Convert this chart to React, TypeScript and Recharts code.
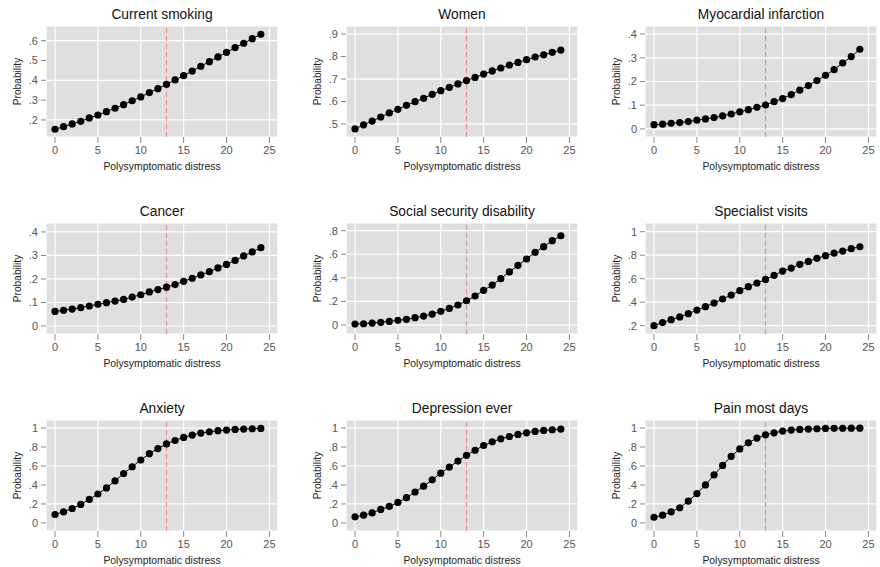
import React from 'react';
import { LineChart, Line, XAxis, YAxis, CartesianGrid, ReferenceLine } from 'recharts';

const distress = [0, 1, 2, 3, 4, 5, 6, 7, 8, 9, 10, 11, 12, 13, 14, 15, 16, 17, 18, 19, 20, 21, 22, 23, 24];
const xTicks = [0, 5, 10, 15, 20, 25];

const smoking = [0.153, 0.166, 0.18, 0.193, 0.21, 0.225, 0.242, 0.259, 0.277, 0.297, 0.316, 0.338, 0.358, 0.38, 0.402, 0.424, 0.447, 0.471, 0.494, 0.518, 0.541, 0.565, 0.587, 0.61, 0.632];
const women = [0.478, 0.496, 0.513, 0.531, 0.549, 0.565, 0.583, 0.599, 0.614, 0.632, 0.648, 0.663, 0.678, 0.693, 0.707, 0.722, 0.736, 0.749, 0.762, 0.774, 0.786, 0.798, 0.808, 0.819, 0.829];
const myocardial = [0.018, 0.02, 0.024, 0.027, 0.031, 0.037, 0.042, 0.048, 0.055, 0.063, 0.072, 0.081, 0.091, 0.101, 0.115, 0.128, 0.145, 0.164, 0.183, 0.204, 0.226, 0.25, 0.278, 0.305, 0.336];
const cancer = [0.062, 0.067, 0.072, 0.078, 0.085, 0.092, 0.099, 0.106, 0.113, 0.123, 0.133, 0.145, 0.155, 0.165, 0.176, 0.19, 0.203, 0.217, 0.231, 0.247, 0.262, 0.279, 0.298, 0.315, 0.333];
const disability = [0.008, 0.011, 0.017, 0.023, 0.031, 0.04, 0.048, 0.062, 0.076, 0.093, 0.116, 0.141, 0.17, 0.206, 0.246, 0.294, 0.339, 0.393, 0.45, 0.506, 0.56, 0.616, 0.664, 0.715, 0.757];
const specialist = [0.2, 0.226, 0.251, 0.274, 0.302, 0.333, 0.362, 0.393, 0.427, 0.461, 0.498, 0.532, 0.563, 0.594, 0.628, 0.665, 0.69, 0.722, 0.747, 0.773, 0.796, 0.818, 0.835, 0.855, 0.872];
const anxiety = [0.089, 0.117, 0.152, 0.195, 0.248, 0.305, 0.369, 0.443, 0.521, 0.592, 0.663, 0.73, 0.784, 0.833, 0.869, 0.901, 0.926, 0.947, 0.961, 0.972, 0.979, 0.986, 0.989, 0.993, 0.996];
const depression = [0.064, 0.082, 0.106, 0.142, 0.174, 0.216, 0.266, 0.326, 0.387, 0.454, 0.525, 0.589, 0.652, 0.713, 0.766, 0.816, 0.855, 0.887, 0.911, 0.933, 0.95, 0.965, 0.975, 0.982, 0.989];
const pain = [0.06, 0.082, 0.117, 0.16, 0.23, 0.309, 0.401, 0.507, 0.606, 0.702, 0.78, 0.844, 0.894, 0.929, 0.95, 0.968, 0.979, 0.986, 0.989, 0.993, 0.996, 0.997, 0.998, 0.999, 0.999];

const titles = ['Current smoking', 'Women', 'Myocardial infarction', 'Cancer', 'Social security disability', 'Specialist visits', 'Anxiety', 'Depression ever', 'Pain most days'];
const seriesList = [smoking, women, myocardial, cancer, disability, specialist, anxiety, depression, pain];
const yTicksList = [
  [0.2, 0.3, 0.4, 0.5, 0.6],
  [0.5, 0.6, 0.7, 0.8, 0.9],
  [0, 0.1, 0.2, 0.3, 0.4],
  [0, 0.1, 0.2, 0.3, 0.4],
  [0, 0.2, 0.4, 0.6, 0.8],
  [0.2, 0.4, 0.6, 0.8, 1],
  [0, 0.2, 0.4, 0.6, 0.8, 1],
  [0, 0.2, 0.4, 0.6, 0.8, 1],
  [0, 0.2, 0.4, 0.6, 0.8, 1],
];
const yDomains: [number, number][] = [
  [0.114, 0.674],
  [0.442, 0.936],
  [-0.034, 0.434],
  [-0.034, 0.438],
  [-0.076, 0.865],
  [0.129, 1.074],
  [-0.085, 1.085],
  [-0.085, 1.085],
  [-0.085, 1.085],
];

const FONT = '"Liberation Sans", Arial, Helvetica, sans-serif';
const colLefts = [0, 300, 599];
const rowTops = [0, 197, 394];

const fmt = (v: number) => {
  if (v === 0) return '0';
  if (v === 1) return '1';
  return String(Math.round(v * 10) / 10).replace(/^0/, '');
};

function Panel({ idx }: { idx: number }) {
  const col = idx % 3;
  const row = Math.floor(idx / 3);
  const left = colLefts[col];
  const top = rowTops[row];
  const width = col === 2 ? 281 : 300;
  const right = col === 2 ? 3 : 22;
  const series = seriesList[idx];
  const data = distress.map((x, i) => ({ x, y: series[i] }));
  const plotW = width - right - 46;
  return (
    <div style={{ position: 'absolute', left, top, width, height: 197 }}>
      <div
        style={{
          position: 'absolute',
          left: 46,
          width: plotW,
          top: 6,
          textAlign: 'center',
          fontFamily: FONT,
          fontSize: 13.8,
          lineHeight: '18px',
          color: '#111',
          whiteSpace: 'nowrap',
        }}
      >
        {titles[idx]}
      </div>
      <LineChart width={width} height={197} data={data} margin={{ top: 26, right, bottom: 20, left: 0 }}>
        <CartesianGrid fill="#dfdfdf" stroke="#ffffff" strokeWidth={1.2} />
        <XAxis
          dataKey="x"
          type="number"
          domain={[-1.05, 26]}
          ticks={xTicks}
          allowDataOverflow
          axisLine={false}
          tickLine={{ stroke: '#888' }}
          tickSize={6}
          tickMargin={3}
          height={40}
          tick={{ fontSize: 11, fill: '#555', fontFamily: FONT }}
          label={{ value: 'Polysymptomatic distress', position: 'insideBottom', offset: 7, fontSize: 10.4, fill: '#222', fontFamily: FONT }}
        />
        <YAxis
          type="number"
          domain={yDomains[idx]}
          ticks={yTicksList[idx]}
          allowDataOverflow
          width={46}
          axisLine={false}
          tickLine={{ stroke: '#888' }}
          tickSize={5}
          tickMargin={3}
          tickFormatter={fmt}
          tick={{ fontSize: 11, fill: '#555', fontFamily: FONT }}
          label={{ value: 'Probability', angle: -90, position: 'insideLeft', offset: 17, fontSize: 10.2, fill: '#222', fontFamily: FONT, style: { textAnchor: 'middle' } }}
        />
        <ReferenceLine x={13} stroke="#eb8f8f" strokeWidth={1.2} strokeDasharray="5 3" />
        <Line
          dataKey="y"
          type="linear"
          stroke="#000"
          strokeWidth={1}
          dot={{ r: 3.6, fill: '#000', stroke: '#000', strokeWidth: 0 }}
          activeDot={false}
          isAnimationActive={false}
        />
      </LineChart>
    </div>
  );
}

export default function App() {
  return (
    <div style={{ position: 'absolute', left: 0, top: 0, width: 880, height: 567, background: '#fff', overflow: 'hidden' }}>
      {titles.map((_, i) => (
        <Panel key={i} idx={i} />
      ))}
    </div>
  );
}
